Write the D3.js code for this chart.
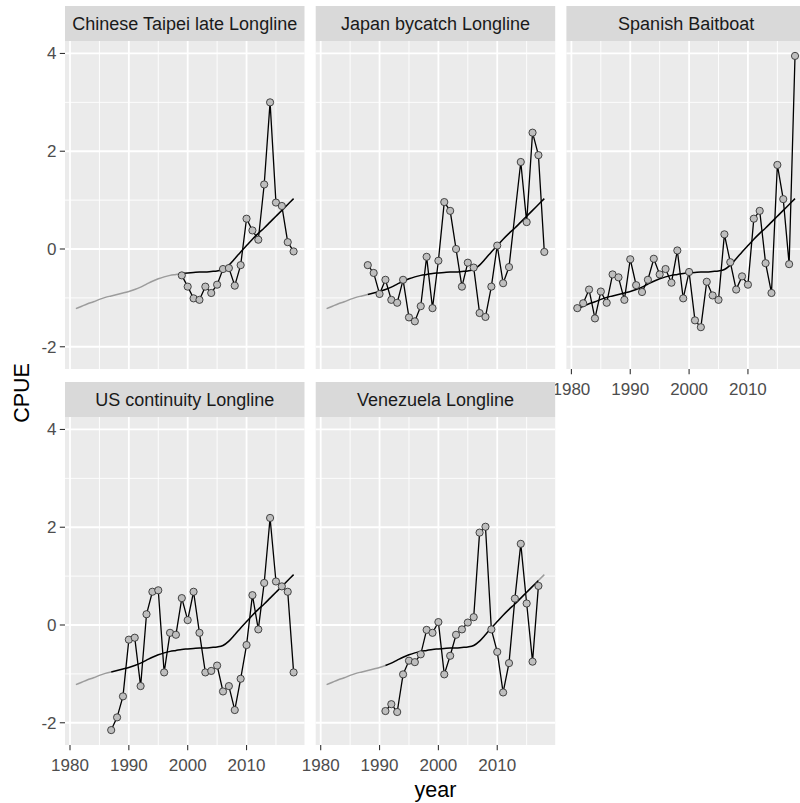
<!DOCTYPE html>
<html>
<head>
<meta charset="utf-8">
<script src="https://cdn.jsdelivr.net/npm/d3@7"></script>
<style>
  html, body { margin: 0; padding: 0; background: #ffffff; }
  svg { display: block; font-family: "Liberation Sans", Arial, Helvetica, sans-serif; }
</style>
</head>
<body>
<svg id="chart" width="800" height="803"></svg>
<script>
// Standardised CPUE indices by fleet
const fleetNames = [
  "Chinese Taipei late Longline",
  "Japan bycatch Longline",
  "Spanish Baitboat",
  "US continuity Longline",
  "Venezuela Longline"
];

const twnYears = d3.range(1999, 2019);
const twnCpue = [-0.54, -0.77, -1.01, -1.04, -0.77, -0.90, -0.73, -0.41, -0.39, -0.75,
                 -0.33, 0.62, 0.38, 0.19, 1.32, 3.00, 0.95, 0.88, 0.14, -0.05];

const jpnYears = d3.range(1988, 2013).concat(d3.range(2014, 2019));
const jpnCpue = [-0.33, -0.49, -0.92, -0.63, -1.04, -1.10, -0.63, -1.40, -1.48, -1.17,
                 -0.16, -1.21, -0.24, 0.96, 0.78, 0.00, -0.77, -0.28, -0.38, -1.31,
                 -1.39, -0.77, 0.07, -0.70, -0.37, 1.78, 0.55, 2.38, 1.92, -0.06];

const espYears = d3.range(1981, 2019);
const espCpue = [-1.21, -1.11, -0.83, -1.42, -0.87, -1.10, -0.52, -0.58, -1.04, -0.21,
                 -0.74, -0.88, -0.63, -0.20, -0.52, -0.41, -0.69, -0.03, -1.01, -0.47,
                 -1.46, -1.60, -0.67, -0.95, -1.04, 0.30, -0.27, -0.83, -0.56, -0.73,
                 0.62, 0.78, -0.29, -0.90, 1.72, 1.02, -0.31, 3.95];

const usaYears = d3.range(1987, 2019);
const usaCpue = [-2.15, -1.89, -1.46, -0.30, -0.26, -1.25, 0.22, 0.68, 0.71, -0.97,
                 -0.16, -0.20, 0.55, 0.10, 0.68, -0.16, -0.97, -0.94, -0.83, -1.36,
                 -1.25, -1.74, -1.10, -0.41, 0.61, -0.09, 0.86, 2.19, 0.89, 0.79,
                 0.68, -0.97];

const venYears = d3.range(1991, 2018);
const venCpue = [-1.76, -1.62, -1.78, -1.01, -0.73, -0.76, -0.60, -0.10, -0.16, 0.06,
                 -1.01, -0.63, -0.20, -0.09, 0.05, 0.16, 1.89, 2.01, -0.09, -0.55,
                 -1.38, -0.78, 0.54, 1.66, 0.44, -0.75, 0.80];

// Common smoothed trend shared by all fleets
const trendYears = d3.range(1981, 2019);
const trendCpue = [-1.22, -1.17, -1.12, -1.08, -1.03, -0.99, -0.96, -0.93, -0.90, -0.87,
                   -0.83, -0.78, -0.72, -0.66, -0.61, -0.57, -0.54, -0.52, -0.50, -0.49,
                   -0.48, -0.47, -0.47, -0.46, -0.45, -0.42, -0.33, -0.20, -0.06, 0.07,
                   0.20, 0.32, 0.43, 0.55, 0.67, 0.79, 0.91, 1.03];

const xTicks = [1980, 1990, 2000, 2010];
const xMinor = [1985, 1995, 2005, 2015];
const yTicks = [-2, 0, 2, 4];
const yMinor = [-1, 1, 3];

const fleetYears = [twnYears, jpnYears, espYears, usaYears, venYears];
const fleetCpue = [twnCpue, jpnCpue, espCpue, usaCpue, venCpue];

const fleets = fleetNames.map((name, i) => ({
  name,
  points: fleetYears[i].map((y, j) => ({ year: y, cpue: fleetCpue[i][j] }))
}));
const trend = trendYears.map((y, j) => ({ year: y, cpue: trendCpue[j] }));

// ---- layout (facet grid, 3 columns) ----
const svg = d3.select("#chart");
const ncol = 3;
const panelLeft = 65, panelW = 239.5, gapX = 11.2;
const stripH = 35, panelH = 328;
const rowTop = [6, 382];

// shared scales with 5% padding on each side
const allYears = fleets.flatMap(f => f.points.map(p => p.year)).concat(trendYears);
const allVals = fleets.flatMap(f => f.points.map(p => p.cpue)).concat(trendCpue);
const [x0, x1] = d3.extent(allYears);
const [y0, y1] = d3.extent(allVals);
const xPad = (x1 - x0) * 0.05, yPad = (y1 - y0) * 0.05;
const x = d3.scaleLinear().domain([x0 - xPad, x1 + xPad]).range([0, panelW]);
const y = d3.scaleLinear().domain([y0 - yPad, y1 + yPad]).range([panelH, 0]);

const line = d3.line().x(d => x(d.year)).y(d => y(d.cpue));
const smooth = d3.line().curve(d3.curveMonotoneX).x(d => x(d.year)).y(d => y(d.cpue));

fleets.forEach((f, i) => {
  const col = i % ncol, row = Math.floor(i / ncol);
  const px = panelLeft + col * (panelW + gapX);
  const sy = rowTop[row];
  const py = sy + stripH;
  const g = svg.append("g").attr("transform", `translate(${px},${py})`);

  // strip
  svg.append("rect").attr("x", px).attr("y", sy).attr("width", panelW).attr("height", stripH)
    .attr("fill", "#D9D9D9");
  svg.append("text").attr("x", px + panelW / 2).attr("y", sy + stripH / 2)
    .attr("dy", "0.35em").attr("text-anchor", "middle")
    .attr("font-size", "18px").attr("fill", "#1A1A1A").text(f.name);

  // panel background and grid
  g.append("rect").attr("width", panelW).attr("height", panelH).attr("fill", "#EBEBEB");
  g.selectAll(".ymin").data(yMinor).join("line")
    .attr("x1", 0).attr("x2", panelW).attr("y1", d => y(d)).attr("y2", d => y(d))
    .attr("stroke", "#fff").attr("stroke-width", 0.9);
  g.selectAll(".xmin").data(xMinor).join("line")
    .attr("y1", 0).attr("y2", panelH).attr("x1", d => x(d)).attr("x2", d => x(d))
    .attr("stroke", "#fff").attr("stroke-width", 0.9);
  g.selectAll(".ymaj").data(yTicks).join("line")
    .attr("x1", 0).attr("x2", panelW).attr("y1", d => y(d)).attr("y2", d => y(d))
    .attr("stroke", "#fff").attr("stroke-width", 1.8);
  g.selectAll(".xmaj").data(xTicks).join("line")
    .attr("y1", 0).attr("y2", panelH).attr("x1", d => x(d)).attr("x2", d => x(d))
    .attr("stroke", "#fff").attr("stroke-width", 1.8);

  // trend: grey outside the fleet's years, black within
  const [fy0, fy1] = d3.extent(f.points, p => p.year);
  const before = trend.filter(t => t.year <= fy0);
  const within = trend.filter(t => t.year >= fy0 && t.year <= fy1);
  const after = trend.filter(t => t.year >= fy1);
  [before, after].forEach(seg => {
    if (seg.length > 1) {
      g.append("path").attr("d", smooth(seg)).attr("fill", "none")
        .attr("stroke", "#9C9C9C").attr("stroke-width", 1.5);
    }
  });

  // observed index
  g.append("path").attr("d", line(f.points)).attr("fill", "none")
    .attr("stroke", "#000").attr("stroke-width", 1.3);
  g.append("path").attr("d", smooth(within)).attr("fill", "none")
    .attr("stroke", "#000").attr("stroke-width", 1.5);

  g.selectAll("circle").data(f.points).join("circle")
    .attr("cx", d => x(d.year)).attr("cy", d => y(d.cpue)).attr("r", 3.6)
    .attr("fill", "#BEBEBE").attr("stroke", "#333").attr("stroke-width", 0.9);

  // y axis on first column
  if (col === 0) {
    const ya = g.append("g");
    ya.selectAll("line").data(yTicks).join("line")
      .attr("x1", -5.2).attr("x2", 0).attr("y1", d => y(d)).attr("y2", d => y(d))
      .attr("stroke", "#333").attr("stroke-width", 1.1);
    ya.selectAll("text").data(yTicks).join("text")
      .attr("x", -8.5).attr("y", d => y(d)).attr("dy", "0.35em")
      .attr("text-anchor", "end").attr("font-size", "17px").attr("fill", "#4D4D4D")
      .text(d => d);
  }
  // x axis on panels with nothing below them
  if (i + ncol >= fleets.length) {
    const xa = g.append("g").attr("transform", `translate(0,${panelH})`);
    xa.selectAll("line").data(xTicks).join("line")
      .attr("x1", d => x(d)).attr("x2", d => x(d)).attr("y1", 0).attr("y2", 5.2)
      .attr("stroke", "#333").attr("stroke-width", 1.1);
    xa.selectAll("text").data(xTicks).join("text")
      .attr("x", d => x(d)).attr("y", 25.5)
      .attr("text-anchor", "middle").attr("font-size", "17px").attr("fill", "#4D4D4D")
      .text(d => d);
  }
});

// axis titles
const plotLeft = panelLeft, plotRight = panelLeft + ncol * panelW + (ncol - 1) * gapX;
const plotTop = rowTop[0], plotBottom = rowTop[1] + stripH + panelH;
svg.append("text")
  .attr("x", (plotLeft + plotRight) / 2).attr("y", 797)
  .attr("text-anchor", "middle").attr("font-size", "21.5px").attr("fill", "#000")
  .text("year");
svg.append("text")
  .attr("transform", `translate(29,${(plotTop + stripH + plotBottom) / 2}) rotate(-90)`)
  .attr("text-anchor", "middle").attr("font-size", "21.5px").attr("fill", "#000")
  .text("CPUE");
</script>
</body>
</html>
